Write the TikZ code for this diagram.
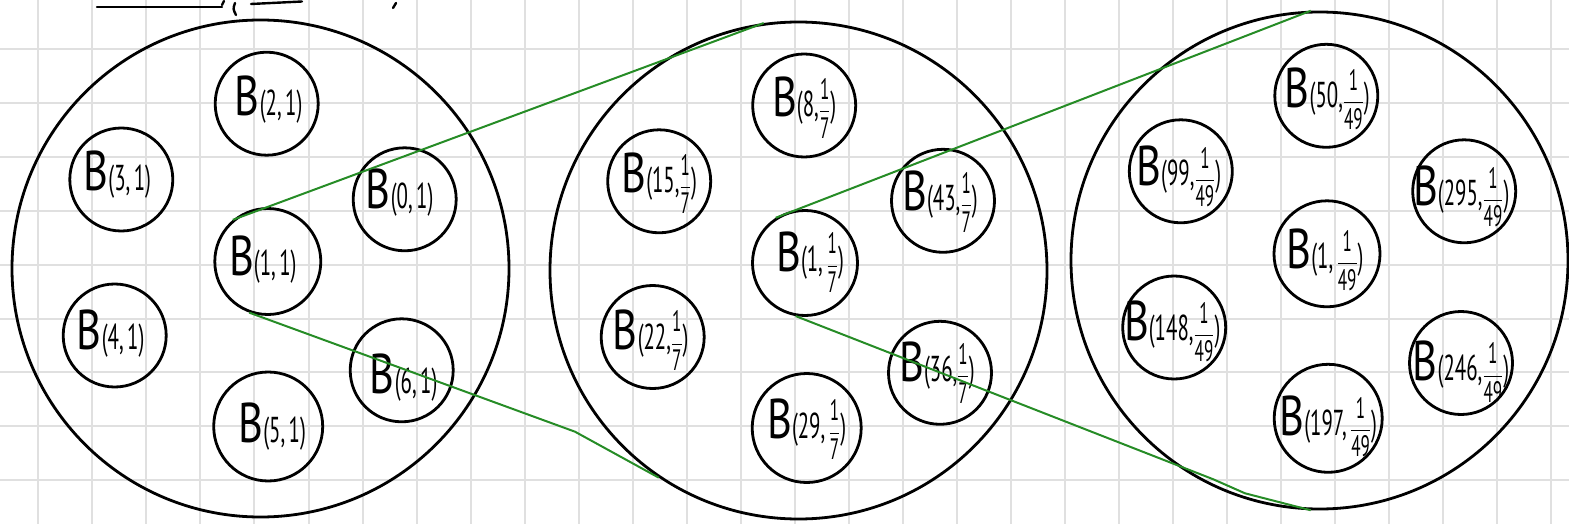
\documentclass[tikz,border=0pt]{standalone}
\usepackage{fontspec}
\setmainfont{PT Sans}
\usetikzlibrary{calc}
\definecolor{gr}{RGB}{38,140,38}
\definecolor{gridc}{RGB}{224,224,224}
\newcommand\fr[2]{\raisebox{-1pt}{\scalebox{0.82}{$\displaystyle{\mbox{#1}\over\mbox{#2}}$}}}
\newcommand\bl[1]{\scalebox{0.76}[1]{\fontsize{28}{28}\selectfont B}\scalebox{0.58}[1]{#1}}
\tikzset{
 ring/.style={circle, draw=black, line width=1.4pt, inner sep=0pt},
 ball/.style={ring, minimum size=51.5pt},
 bigball/.style={ring, minimum size=248.5pt},
 lbl/.style={font=\fontsize{18}{20}\selectfont, inner sep=0pt},
 link/.style={draw=gr, line width=1pt, line join=round},
 gridline/.style={draw=gridc, line width=1pt},
 pen/.style={draw=black, line width=1.2pt, line cap=round},
}
\begin{document}
\begin{tikzpicture}[x=0.5pt,y=-0.5pt]
\useasboundingbox (0,0) rectangle (1569,524);
% grid paper
\foreach \k in {0,...,28} \draw[gridline] ({38.3+54.04*\k},0) -- ({38.3+54.04*\k},524);
\foreach \k in {0,...,8} \draw[gridline] (0,{49.3+53.85*\k}) -- (1569,{49.3+53.85*\k});
% cut-off strokes at top
\draw[pen] (97,7) -- (222,7);
\draw[pen] (222,5) -- (224,1);
\draw[pen] (235,3) .. controls (233,9) .. (236,15);
\draw[pen] (251,4) -- (302,1.5);
\draw[pen] (396,3) -- (393,8);
% big circles
\node[bigball] (C1) at (260.5,268.5) {};
\node[bigball] (C2) at (798.5,270.5) {};
\node[bigball] (C3) at (1319.5,260.5) {};
% circle 1
\node[ball] (a2) at (266.7,103.7) {};
\node[ball] (a3) at (121.3,179.5) {};
\node[ball] (a0) at (404.7,199.3) {};
\node[ball, minimum size=53pt] (a1) at (267.8,261.5) {};
\node[ball] (a4) at (114.7,335.5) {};
\node[ball] (a6) at (401.7,370.3) {};
\node[ball, minimum size=54.5pt] (a5) at (268.2,426.5) {};
\node[lbl] at ($(a2)+(2,-4)$) {\bl{(2,\,1)}};
\node[lbl] at ($(a3)+(-4,-5)$) {\bl{(3,\,1)}};
\node[lbl] at ($(a0)+(-5,-7)$) {\bl{(0,\,1)}};
\node[lbl] at ($(a1)+(-5,-2)$) {\bl{(1,\,1)}};
\node[lbl] at ($(a4)+(-4,-2)$) {\bl{(4,\,1)}};
\node[lbl] at ($(a6)+(2,7)$) {\bl{(6,\,1)}};
\node[lbl] at ($(a5)+(4,0)$) {\bl{(5,\,1)}};
% circle 2
\node[ball] (m8) at (804.2,105.5) {};
\node[ball] (m15) at (659.2,181.3) {};
\node[ball] (m43) at (943,200.8) {};
\node[ball, minimum size=52.5pt] (m1) at (805,263) {};
\node[ball] (m22) at (652.7,337) {};
\node[ball] (m36) at (940,372.8) {};
\node[ball, minimum size=54.5pt] (m29) at (806.7,428) {};
\node[lbl] at ($(m8)+(0,2)$) {\bl{(8,\fr{1}{7})}};
\node[lbl] at ($(m15)+(0,2)$) {\bl{(15,\fr{1}{7})}};
\node[lbl] at ($(m43)+(-3,1)$) {\bl{(43,\fr{1}{7})}};
\node[lbl] at ($(m1)+(5,-1)$) {\bl{(1,\,\fr{1}{7})}};
\node[lbl] at ($(m22)+(-2,3)$) {\bl{(22,\fr{1}{7})}};
\node[lbl] at ($(m36)+(-3,0)$) {\bl{(36,\fr{1}{7})}};
\node[lbl] at ($(m29)+(0,1)$) {\bl{(29,\,\fr{1}{7})}};
% circle 3
\node[ball] (n50) at (1326.3,95.8) {};
\node[ball] (n99) at (1180.8,171.3) {};
\node[ball] (n295) at (1464.2,191.3) {};
\node[ball, minimum size=53pt] (n1) at (1327,253.8) {};
\node[ball] (n148) at (1174.2,327.5) {};
\node[ball] (n246) at (1461,363) {};
\node[ball, minimum size=54pt] (n197) at (1328.2,418.3) {};
\node[lbl] at ($(n50)+(1,3)$) {\bl{(50,\fr{1}{49})}};
\node[lbl] at ($(n99)+(-2,5)$) {\bl{(99,\fr{1}{49})}};
\node[lbl] at ($(n295)+(-3,5)$) {\bl{(295,\fr{1}{49})}};
\node[lbl] at ($(n1)+(-2,6)$) {\bl{(1,\,\fr{1}{49})}};
\node[lbl] at ($(n148)+(-2,4)$) {\bl{(148,\fr{1}{49})}};
\node[lbl] at ($(n246)+(0,9)$) {\bl{(246,\fr{1}{49})}};
\node[lbl] at ($(n197)+(0,8)$) {\bl{(197,\,\fr{1}{49})}};
% green links
\coordinate (k1) at (575,431.7);
\coordinate (k2) at (1213.3,479.3);
\coordinate (k3) at (1245,493.3);
\draw[link] (a1.130) -- (C2.98);
\draw[link] (a1.250) -- (k1) -- (C2.236);
\draw[link] (m1.123) -- (C3.92);
\draw[link] (m1.260) -- (k2) -- (k3) -- (C3.268);
\end{tikzpicture}
\end{document}
